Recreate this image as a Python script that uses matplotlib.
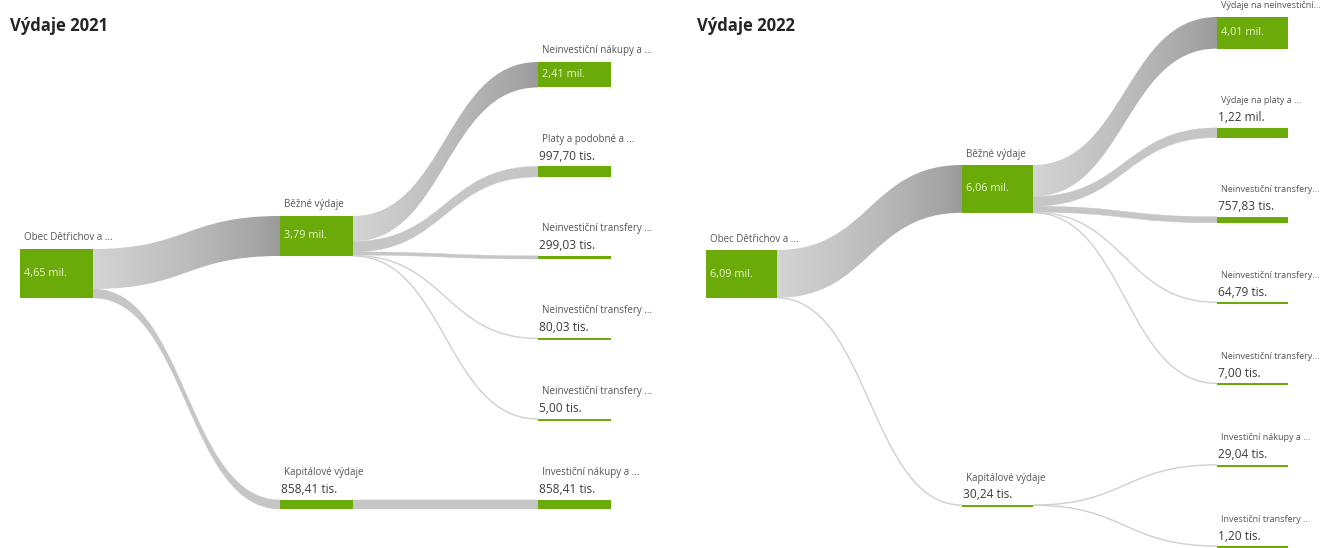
import numpy as np
import matplotlib.pyplot as plt
from matplotlib.path import Path
from matplotlib.patches import PathPatch, Rectangle
from matplotlib.colors import LinearSegmentedColormap

plt.rcParams['font.family'] = ['Open Sans', 'DejaVu Sans']

# výdaje 2021
koren_2021 = 'Obec Dětřichov a ...'
skupiny_2021 = ['Běžné výdaje', 'Kapitálové výdaje']
polozky_2021 = ['Neinvestiční nákupy a ...', 'Platy a podobné a ...',
                'Neinvestiční transfery ...', 'Neinvestiční transfery ...',
                'Neinvestiční transfery ...', 'Investiční nákupy a ...']
hodnoty_2021 = [2410000, 997700, 299030, 80030, 5000, 858410]
skupina_2021 = [0, 0, 0, 0, 0, 1]

# výdaje 2022
koren_2022 = 'Obec Dětřichov a ...'
skupiny_2022 = ['Běžné výdaje', 'Kapitálové výdaje']
polozky_2022 = ['Výdaje na neinvestiční...', 'Výdaje na platy a ...',
                'Neinvestiční transfery...', 'Neinvestiční transfery...',
                'Neinvestiční transfery...', 'Investiční nákupy a ...',
                'Investiční transfery ...']
hodnoty_2022 = [4010000, 1220000, 757830, 64790, 7000, 29040, 1200]
skupina_2022 = [0, 0, 0, 0, 0, 1, 1]

ZELENA = '#6aab0a'
SEDA_TXT = '#555555'
pas_cmap = LinearSegmentedColormap.from_list(
    'pas', [(0, '#d4d4d4'), (0.55, '#bababa'), (0.9, '#a4a4a4'), (1, '#9a9a9a')])

W, H = 1327, 548
fig = plt.figure(figsize=(W / 100, H / 100), dpi=100)
ax = fig.add_axes([0, 0, 1, 1])
ax.axis('off')


def formatuj(v):
    if v >= 1e6:
        return f'{v / 1e6:.2f}'.replace('.', ',') + ' mil.'
    return f'{v / 1e3:.2f}'.replace('.', ',') + ' tis.'


def pas(x0, y0, x1, y1, w):
    xm = (x0 + x1) / 2
    if w < 3:
        # tenke toky jen jako cara
        yc0, yc1 = y0 + w / 2, y1 + w / 2
        p = Path([(x0, yc0), (xm, yc0), (xm, yc1), (x1, yc1)],
                 [Path.MOVETO, Path.CURVE4, Path.CURVE4, Path.CURVE4])
        ax.add_patch(PathPatch(p, facecolor='none', edgecolor='#d0d0d0',
                               lw=max(w, 1.4) * 0.72, capstyle='butt'))
        return
    verts = [(x0, y0), (xm, y0), (xm, y1), (x1, y1),
             (x1, y1 + w), (xm, y1 + w), (xm, y0 + w), (x0, y0 + w), (x0, y0)]
    codes = [Path.MOVETO, Path.CURVE4, Path.CURVE4, Path.CURVE4,
             Path.LINETO, Path.CURVE4, Path.CURVE4, Path.CURVE4, Path.CLOSEPOLY]
    if w < 20:
        ax.add_patch(PathPatch(Path(verts, codes), facecolor='#c6c6c6',
                               edgecolor='#c6c6c6', lw=0.3))
        return
    patch = PathPatch(Path(verts, codes), facecolor='none', edgecolor='none')
    ax.add_patch(patch)
    grad = np.linspace(0, 1, 256).reshape(1, -1)
    im = ax.imshow(grad, cmap=pas_cmap, extent=(x0, x1, H, 0), aspect='auto',
                   interpolation='bilinear')
    im.set_clip_path(patch)


def uzel(x, top, h, w, nazev, hodnota, fs):
    hd = max(h, 2)
    ax.add_patch(Rectangle((x, top), w, hd, facecolor=ZELENA, edgecolor='none'))
    txt = formatuj(hodnota)
    if hd > 20:
        ax.text(x + 4, top - 11, nazev, fontsize=fs, color=SEDA_TXT, va='center')
        ax.text(x + 4, top + hd / 2, txt, fontsize=7.8, color='#e8f4cf', va='center')
    else:
        ax.text(x + 4, top - 27, nazev, fontsize=fs, color=SEDA_TXT, va='center')
        ax.text(x + 1, top - 10, txt, fontsize=8.6, color='#3c3c3c', va='center')


def rozloz(vysky, y_od, y_do):
    mezera = (y_do - y_od - sum(vysky)) / (len(vysky) - 1)
    tops, y = [], y_od
    for h in vysky:
        tops.append(y)
        y += h + mezera
    return tops


def panel(titul, tx, koren, skupiny, polozky, hodnoty, prirazeni,
          sloupce, sirka, koren_top, koren_h, rozsah_sk, rozsah_pol, fs_pol):
    sk_hodnoty = [sum(v for v, g in zip(hodnoty, prirazeni) if g == i)
                  for i in range(len(skupiny))]
    celkem = sum(sk_hodnoty)
    meritko = koren_h / celkem

    def vyska(v):
        return v * meritko

    sk_tops = rozloz([max(vyska(v), 2) for v in sk_hodnoty], *rozsah_sk)
    pol_tops = rozloz([max(vyska(v), 2) for v in hodnoty], *rozsah_pol)

    # toky koren -> skupiny
    y = koren_top
    for i, v in enumerate(sk_hodnoty):
        w = vyska(v)
        pas(sloupce[0] + sirka, y, sloupce[1], sk_tops[i], w)
        y += w
    # toky skupiny -> polozky
    posun = list(sk_tops)
    for j, (v, g) in enumerate(zip(hodnoty, prirazeni)):
        w = vyska(v)
        pas(sloupce[1] + sirka, posun[g], sloupce[2], pol_tops[j], w)
        posun[g] += w

    uzel(sloupce[0], koren_top, vyska(celkem), sirka, koren, celkem, 7)
    for i, v in enumerate(sk_hodnoty):
        uzel(sloupce[1], sk_tops[i], vyska(v), sirka, skupiny[i], v, 7)
    for j, v in enumerate(hodnoty):
        uzel(sloupce[2], pol_tops[j], vyska(v), sirka, polozky[j], v, fs_pol)

    ax.text(tx, 26, titul, fontsize=12, fontweight='bold', color='#252525', va='center')


panel('Výdaje 2021', 10, koren_2021, skupiny_2021, polozky_2021, hodnoty_2021,
      skupina_2021, [20, 280, 538], 73, 249, 49, (216, 509), (62, 509), 7)
panel('Výdaje 2022', 697, koren_2022, skupiny_2022, polozky_2022, hodnoty_2022,
      skupina_2022, [706, 962, 1217], 71, 250, 48, (165, 507), (17, 548), 6.5)

ax.set_xlim(0, W)
ax.set_ylim(H, 0)
fig.savefig('out.png', dpi=100)
